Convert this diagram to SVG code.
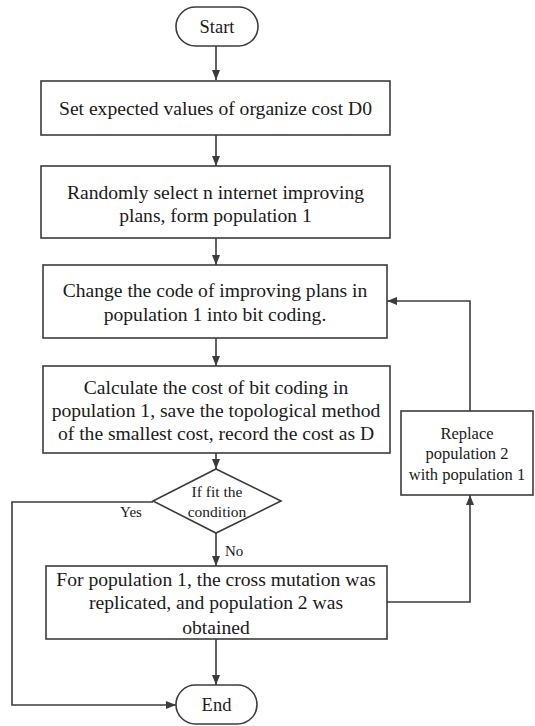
<svg xmlns="http://www.w3.org/2000/svg" width="535" height="726" viewBox="0 0 535 726">
<defs>
<style>
.box{fill:#fff;stroke:#3c3c3c;stroke-width:1.6}
.ln{fill:none;stroke:#3c3c3c;stroke-width:1.6}
.t{font-family:"Liberation Serif","Times New Roman",serif;font-size:19.6px;fill:#1a1a1a;text-anchor:middle}
.s{font-size:16.5px}
.d{font-size:15.5px}
.l{font-family:"Liberation Serif","Times New Roman",serif;font-size:15px;fill:#1a1a1a}
</style>
<marker id="ah" viewBox="0 0 10 10" refX="10" refY="5" markerWidth="10" markerHeight="10" markerUnits="userSpaceOnUse" orient="auto">
<path d="M0,1 L10,5 L0,9 Z" fill="#3c3c3c"/>
</marker>
</defs>
<rect width="535" height="726" fill="#fff"/>
<g id="connectors">
<line class="ln" x1="216" y1="46" x2="216" y2="80" marker-end="url(#ah)"/>
<line class="ln" x1="216" y1="135" x2="216" y2="166" marker-end="url(#ah)"/>
<line class="ln" x1="216" y1="238" x2="216" y2="265" marker-end="url(#ah)"/>
<line class="ln" x1="216" y1="338" x2="216" y2="366" marker-end="url(#ah)"/>
<line class="ln" x1="216" y1="453" x2="216" y2="469" marker-end="url(#ah)"/>
<line class="ln" x1="216" y1="533" x2="216" y2="566" marker-end="url(#ah)"/>
<line class="ln" x1="216" y1="639" x2="216" y2="685" marker-end="url(#ah)"/>
<polyline class="ln" points="153,502 12,502 12,705 176,705" marker-end="url(#ah)"/>
<polyline class="ln" points="387,602 470,602 470,495" marker-end="url(#ah)"/>
<polyline class="ln" points="470,411 470,301 387,301" marker-end="url(#ah)"/>
<text class="l" x="131" y="517" text-anchor="middle">Yes</text>
<text class="l" x="225" y="556">No</text>
</g>
<g id="start">
<rect class="box" x="176" y="7" width="82" height="39" rx="19.5"/>
<text class="t" x="217" y="33" style="font-size:18.5px">Start</text>
</g>
<g id="n1">
<rect class="box" x="41" y="81" width="349" height="54"/>
<text class="t" x="215.5" y="114.5">Set expected values of organize cost D0</text>
</g>
<g id="n2">
<rect class="box" x="41" y="166" width="349" height="72"/>
<text class="t" x="215.5" y="198.5">Randomly select n internet improving</text>
<text class="t" x="215.5" y="221.5">plans, form population 1</text>
</g>
<g id="n3">
<rect class="box" x="43" y="265" width="344" height="73"/>
<text class="t" x="215" y="296.5">Change the code of improving plans in</text>
<text class="t" x="215" y="320.5">population 1 into bit coding.</text>
</g>
<g id="n4">
<rect class="box" x="43" y="366" width="347" height="87"/>
<text class="t" x="216" y="393.5">Calculate the cost of bit coding in</text>
<text class="t" x="216" y="416.5">population 1, save the topological method</text>
<text class="t" x="216" y="439.5">of the smallest cost, record the cost as D</text>
</g>
<g id="decision">
<polygon class="box" points="216,469 281,501 216,533 153,501"/>
<text class="t d" x="217" y="497">If fit the</text>
<text class="t d" x="217" y="517">condition</text>
</g>
<g id="n5">
<rect class="box" x="46" y="566" width="341" height="73"/>
<text class="t" x="216" y="585.5">For population 1, the cross mutation was</text>
<text class="t" x="216" y="608.5">replicated, and population 2 was</text>
<text class="t" x="216" y="633.5">obtained</text>
</g>
<g id="replace">
<rect class="box" x="401" y="411" width="132" height="84"/>
<text class="t s" x="467" y="439">Replace</text>
<text class="t s" x="467" y="459">population 2</text>
<text class="t s" x="467" y="480">with population 1</text>
</g>
<g id="end">
<rect class="box" x="176" y="685" width="81" height="39" rx="19.5"/>
<text class="t" x="216.5" y="711" style="font-size:18.5px">End</text>
</g>
</svg>
